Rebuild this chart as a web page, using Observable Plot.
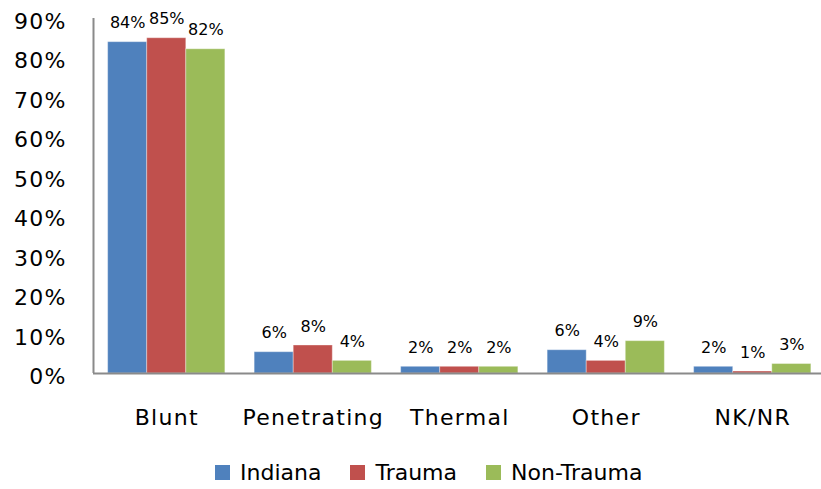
<!DOCTYPE html>
<html>
<head>
<meta charset="utf-8">
<script src="https://cdn.jsdelivr.net/npm/d3@7"></script>
<script src="https://cdn.jsdelivr.net/npm/@observablehq/plot@0.6"></script>
<style>
  html, body { margin: 0; padding: 0; background: #fff; overflow: hidden; }
  body { width: 821px; height: 489px; font-family: "DejaVu Sans", sans-serif; }
  #legend { display: flex; align-items: center; padding-left: 215px; padding-top: 16px; height: 33px; gap: 29px; font-size: 22px; color: #000; }
  #legend .item { display: flex; align-items: center; gap: 10px; }
  #legend .sw { width: 15px; height: 15px; display: inline-block; }
  g[aria-label="x-axis tick label"] text { letter-spacing: 1.3px; }
  g[aria-label="y-axis tick label"] text { letter-spacing: 1.2px; }
</style>
</head>
<body>
<div id="chart"></div>
<div id="legend"></div>
<script>
const categories = ["Blunt", "Penetrating", "Thermal", "Other", "NK/NR"];
const series = ["Indiana", "Trauma", "Non-Trauma"];
const colors = ["#4F81BD", "#C0504D", "#9BBB59"];
// bar heights (fractions)
const indiana   = [0.840, 0.054, 0.017, 0.059, 0.017];
const trauma    = [0.850, 0.071, 0.017, 0.032, 0.005];
const nonTrauma = [0.822, 0.032, 0.017, 0.082, 0.024];
// data labels as printed
const indianaLabels   = ["84%", "6%", "2%", "6%", "2%"];
const traumaLabels    = ["85%", "8%", "2%", "4%", "1%"];
const nonTraumaLabels = ["82%", "4%", "2%", "9%", "3%"];
const yTicks = [0, 0.1, 0.2, 0.3, 0.4, 0.5, 0.6, 0.7, 0.8, 0.9];

const values = [indiana, trauma, nonTrauma];
const labels = [indianaLabels, traumaLabels, nonTraumaLabels];
const groupWidth = 0.8;
const barW = groupWidth / series.length;
const table = [];
series.forEach((s, j) => {
  categories.forEach((c, i) => {
    const x1 = i + (1 - groupWidth) / 2 + j * barW;
    table.push({category: c, series: s, value: values[j][i], label: labels[j][i], x1, x2: x1 + barW, xm: x1 + barW / 2});
  });
});

const chart = Plot.plot({
  width: 821,
  height: 440,
  marginTop: 18,
  marginBottom: 67,
  marginLeft: 93,
  marginRight: 0,
  style: {fontFamily: "DejaVu Sans, sans-serif", color: "#000", background: "#fff"},
  x: {type: "linear", domain: [0, categories.length], range: [93, 825.5]},
  y: {domain: [0, 0.9]},
  color: {domain: series, range: colors},
  marks: [
    Plot.rectY(table, {x1: "x1", x2: "x2", y1: 0, y2: "value", fill: "series", stroke: "#ffffff", strokeOpacity: 0.35, strokeWidth: 1}),
    Plot.ruleY([0], {stroke: "#8a8a8a", strokeWidth: 2}),
    Plot.ruleX([0], {y1: 0, y2: 0.9, stroke: "#8a8a8a", strokeWidth: 2}),
    Plot.text(table, {x: "xm", y: "value", text: "label", dy: -19, fontSize: 16, fill: "#000"}),
    Plot.axisY({ticks: yTicks, tickFormat: d3.format(".0%"), tickSize: 0, tickPadding: 27, fontSize: 22, dy: 3.5, label: null}),
    Plot.axisX({ticks: categories.map((c, i) => i + 0.5), tickFormat: d => categories[Math.round(d - 0.5)], tickSize: 0, tickPadding: 36, fontSize: 22, label: null})
  ]
});
document.getElementById("chart").appendChild(chart);

const legend = document.getElementById("legend");
series.forEach((s, j) => {
  const item = document.createElement("div");
  item.className = "item";
  const sw = document.createElement("span");
  sw.className = "sw";
  sw.style.background = colors[j];
  const t = document.createElement("span");
  t.textContent = s;
  item.appendChild(sw);
  item.appendChild(t);
  legend.appendChild(item);
});
</script>
</body>
</html>
